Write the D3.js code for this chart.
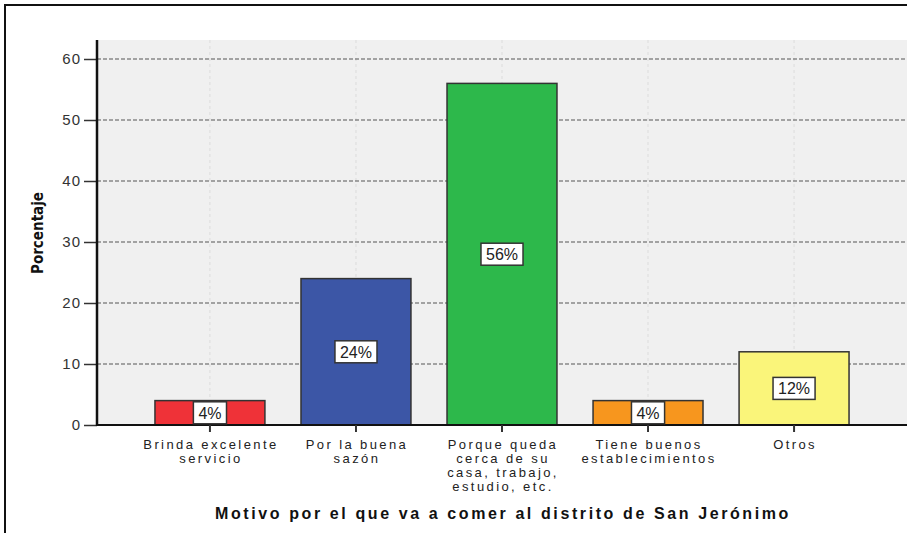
<!DOCTYPE html>
<html>
<head>
<meta charset="utf-8">
<script src="https://cdn.jsdelivr.net/npm/d3@7"></script>
<style>
  body { margin: 0; background: #fff; }
  svg { display: block; font-family: Arial, "Liberation Sans", sans-serif; }
</style>
</head>
<body>
<div id="chart"></div>
<script>
// chart data
const categories = [
  ['Brinda excelente', 'servicio'],
  ['Por la buena', 'sazón'],
  ['Porque queda', 'cerca de su', 'casa, trabajo,', 'estudio, etc.'],
  ['Tiene buenos', 'establecimientos'],
  ['Otros']
];
const values = [4, 24, 56, 4, 12];
const valueLabels = ['4%', '24%', '56%', '4%', '12%'];
const yTicks = [0, 10, 20, 30, 40, 50, 60];
const barColors = ['#ef3238', '#3c56a6', '#2db84b', '#f7961e', '#faf57a'];

const W = 907, H = 533;
const plot = { left: 97, right: 907, top: 40, bottom: 425 };

const svg = d3.select('#chart')
  .append('svg')
  .attr('width', W)
  .attr('height', H);

// outer frame
svg.append('rect')
  .attr('x', 5).attr('y', 5)
  .attr('width', W + 10).attr('height', H + 10)
  .attr('fill', '#fff')
  .attr('stroke', '#111')
  .attr('stroke-width', 2);

const keys = d3.range(categories.length);

const x = d3.scaleBand()
  .domain(keys)
  .range([137, 867])
  .paddingInner(0.247)
  .paddingOuter(0.123);

const y = d3.scaleLinear()
  .domain([0, 60])
  .range([plot.bottom, 59]);

// plot background
svg.append('rect')
  .attr('x', plot.left).attr('y', plot.top)
  .attr('width', plot.right - plot.left)
  .attr('height', plot.bottom - plot.top)
  .attr('fill', '#f0f0f0');

// faint vertical grid at category centres
svg.append('g')
  .selectAll('line')
  .data(keys)
  .join('line')
  .attr('x1', d => x(d) + x.bandwidth() / 2)
  .attr('x2', d => x(d) + x.bandwidth() / 2)
  .attr('y1', plot.top)
  .attr('y2', plot.bottom)
  .attr('stroke', '#dcdcdc')
  .attr('stroke-dasharray', '3,3');

// horizontal grid
svg.append('g')
  .selectAll('line')
  .data(yTicks.filter(t => t > 0))
  .join('line')
  .attr('x1', plot.left).attr('x2', plot.right)
  .attr('y1', d => y(d)).attr('y2', d => y(d))
  .attr('stroke', '#555')
  .attr('stroke-width', 1)
  .attr('stroke-dasharray', '4,2');

// bars
svg.append('g')
  .selectAll('rect')
  .data(values)
  .join('rect')
  .attr('x', (d, i) => x(i))
  .attr('y', d => y(d))
  .attr('width', x.bandwidth())
  .attr('height', d => y(0) - y(d))
  .attr('fill', (d, i) => barColors[i])
  .attr('stroke', '#333')
  .attr('stroke-width', 1.5);

// y axis
const yAxis = svg.append('g')
  .attr('transform', `translate(${plot.left},0)`)
  .call(d3.axisLeft(y).tickValues(yTicks).tickSize(13).tickPadding(3));
yAxis.select('.domain').remove();
yAxis.selectAll('.tick line').attr('stroke', '#333').attr('stroke-width', 1.5);
yAxis.selectAll('.tick text')
  .attr('fill', '#333')
  .style('font-size', '15px')
  .style('letter-spacing', '1px');

svg.append('line')
  .attr('x1', plot.left).attr('x2', plot.left)
  .attr('y1', plot.top).attr('y2', plot.bottom + 1)
  .attr('stroke', '#111')
  .attr('stroke-width', 2.5);

// x axis
svg.append('line')
  .attr('x1', plot.left).attr('x2', plot.right)
  .attr('y1', plot.bottom).attr('y2', plot.bottom)
  .attr('stroke', '#111')
  .attr('stroke-width', 2);

const xAxis = svg.append('g')
  .attr('transform', `translate(0,${plot.bottom})`)
  .call(d3.axisBottom(x).tickSize(7).tickFormat(''));
xAxis.select('.domain').remove();
xAxis.selectAll('.tick line').attr('stroke', '#333').attr('stroke-width', 2);

// category labels, one text per line
svg.append('g')
  .selectAll('g')
  .data(categories)
  .join('g')
  .each(function (lines, i) {
    d3.select(this).selectAll('text')
      .data(lines)
      .join('text')
      .attr('text-anchor', 'middle')
      .attr('fill', '#222')
      .style('font-size', '13px')
      .style('letter-spacing', '2.4px')
      .attr('x', x(i) + x.bandwidth() / 2 + 1)
      .attr('y', (d, j) => 449 + j * 14)
      .text(d => d);
  });

// value labels
const vl = svg.append('g')
  .selectAll('g')
  .data(values)
  .join('g')
  .attr('transform', (d, i) => `translate(${x(i) + x.bandwidth() / 2},${Math.min((y(d) + y(0)) / 2, 414)})`);
vl.append('text')
  .attr('text-anchor', 'middle')
  .attr('dy', '0.36em')
  .attr('fill', '#222')
  .style('font-size', '16px')
  .text((d, i) => valueLabels[i]);
vl.each(function () {
  const g = d3.select(this);
  const bb = g.select('text').node().getBBox();
  g.insert('rect', 'text')
    .attr('x', bb.x - 5).attr('y', -11)
    .attr('width', bb.width + 10).attr('height', 22)
    .attr('fill', '#fff')
    .attr('stroke', '#333')
    .attr('stroke-width', 1.5);
});

// axis titles
svg.append('text')
  .attr('x', 503).attr('y', 519)
  .attr('text-anchor', 'middle')
  .attr('fill', '#111')
  .style('font-size', '16px')
  .style('font-weight', 'bold')
  .style('letter-spacing', '2.6px')
  .text('Motivo por el que va a comer al distrito de San Jerónimo');

svg.append('text')
  .attr('transform', 'translate(43,233) rotate(-90)')
  .attr('text-anchor', 'middle')
  .attr('fill', '#111')
  .style('font-family', '"Liberation Sans Narrow", "DejaVu Sans Condensed", sans-serif')
  .style('font-size', '15px')
  .style('font-weight', 'bold')
  .text('Porcentaje');
</script>
</body>
</html>
